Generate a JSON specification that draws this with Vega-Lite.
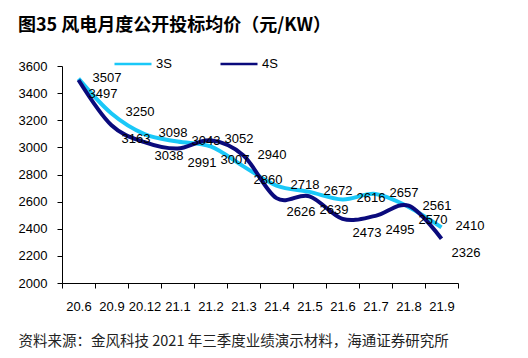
{
  "$schema": "https://vega.github.io/schema/vega-lite/v6.json",
  "width": 396,
  "height": 217,
  "autosize": {"type": "none"},
  "padding": {"left": 62, "top": 66, "right": 70, "bottom": 75},
  "background": "white",
  "title": {
    "text": "图35 风电月度公开投标均价（元/KW）",
    "anchor": "start",
    "frame": "group",
    "dx": -44,
    "offset": 9,
    "fontSize": 18,
    "fontWeight": "bold",
    "font": "Noto Sans CJK SC",
    "color": "#000000"
  },
  "config": {
    "view": {"stroke": null},
    "axis": {"grid": false, "domainColor": "#000000", "tickColor": "#000000", "labelColor": "#000000", "labelFont": "Liberation Sans", "labelFontSize": 13}
  },
  "data": {
    "values": [
      {"month": "20.6", "series": "3S", "price": 3507},
      {"month": "20.9", "series": "3S", "price": 3250},
      {"month": "20.12", "series": "3S", "price": 3098},
      {"month": "21.1", "series": "3S", "price": 3043},
      {"month": "21.2", "series": "3S", "price": 3007},
      {"month": "21.3", "series": "3S", "price": 2860},
      {"month": "21.4", "series": "3S", "price": 2718},
      {"month": "21.5", "series": "3S", "price": 2672},
      {"month": "21.6", "series": "3S", "price": 2616},
      {"month": "21.7", "series": "3S", "price": 2657},
      {"month": "21.8", "series": "3S", "price": 2561},
      {"month": "21.9", "series": "3S", "price": 2410},
      {"month": "20.6", "series": "4S", "price": 3497},
      {"month": "20.9", "series": "4S", "price": 3163},
      {"month": "20.12", "series": "4S", "price": 3038},
      {"month": "21.1", "series": "4S", "price": 2991},
      {"month": "21.2", "series": "4S", "price": 3052},
      {"month": "21.3", "series": "4S", "price": 2940},
      {"month": "21.4", "series": "4S", "price": 2626},
      {"month": "21.5", "series": "4S", "price": 2639},
      {"month": "21.6", "series": "4S", "price": 2473},
      {"month": "21.7", "series": "4S", "price": 2495},
      {"month": "21.8", "series": "4S", "price": 2570},
      {"month": "21.9", "series": "4S", "price": 2326}
    ]
  },
  "encoding": {
    "x": {
      "field": "month",
      "type": "ordinal",
      "sort": null,
      "scale": {"type": "band", "paddingInner": 0, "paddingOuter": 0},
      "axis": {
        "labelAngle": 0,
        "tickBand": "extent",
        "tickSize": 5,
        "labelPadding": 12,
        "title": "资料来源：金风科技 2021 年三季度业绩演示材料，海通证券研究所",
        "titleFont": "Noto Sans CJK SC",
        "titleFontSize": 14.5,
        "titleFontWeight": "normal",
        "titleColor": "#222222",
        "titleAnchor": "start",
        "titleAlign": "left",
        "titleBaseline": "middle",
        "titleX": -44,
        "titleY": 58
      }
    },
    "y": {
      "field": "price",
      "type": "quantitative",
      "scale": {"domain": [2000, 3600], "zero": false, "nice": false},
      "axis": {
        "values": [2000, 2200, 2400, 2600, 2800, 3000, 3200, 3400, 3600],
        "format": "d",
        "tickSize": 5,
        "labelPadding": 10,
        "title": null
      }
    }
  },
  "layer": [
    {
      "mark": {"type": "line", "interpolate": "cardinal", "strokeWidth": 4},
      "encoding": {
        "color": {
          "field": "series",
          "type": "nominal",
          "scale": {"domain": ["3S", "4S"], "range": ["#1AC8F8", "#0A0A7C"]},
          "legend": {
            "orient": "none",
            "legendX": 51,
            "legendY": -22,
            "direction": "horizontal",
            "title": null,
            "symbolType": "stroke",
            "symbolSize": 1369,
            "symbolStrokeWidth": 2.5,
            "labelFontSize": 13,
            "labelFont": "Liberation Sans",
            "labelColor": "#000000",
            "labelOffset": 3,
            "columnPadding": 43
          }
        }
      }
    },
    {
      "transform": [
        {"joinaggregate": [{"op": "max", "field": "price", "as": "maxp"}, {"op": "min", "field": "price", "as": "minp"}], "groupby": ["month"]},
        {"filter": "(datum.maxp - datum.minp < 20) ? datum.series === '3S' : datum.price === datum.maxp"}
      ],
      "mark": {"type": "text", "align": "left", "baseline": "middle", "dx": 14, "dy": -1, "fontSize": 13, "font": "Liberation Sans", "color": "#000000"},
      "encoding": {"text": {"field": "price", "type": "quantitative", "format": "d"}}
    },
    {
      "transform": [
        {"joinaggregate": [{"op": "max", "field": "price", "as": "maxp"}, {"op": "min", "field": "price", "as": "minp"}], "groupby": ["month"]},
        {"filter": "(datum.maxp - datum.minp < 20) ? datum.series === '4S' : datum.price < datum.maxp"}
      ],
      "mark": {"type": "text", "align": "left", "baseline": "middle", "dx": 10, "dy": 14, "fontSize": 13, "font": "Liberation Sans", "color": "#000000"},
      "encoding": {"text": {"field": "price", "type": "quantitative", "format": "d"}}
    }
  ]
}
